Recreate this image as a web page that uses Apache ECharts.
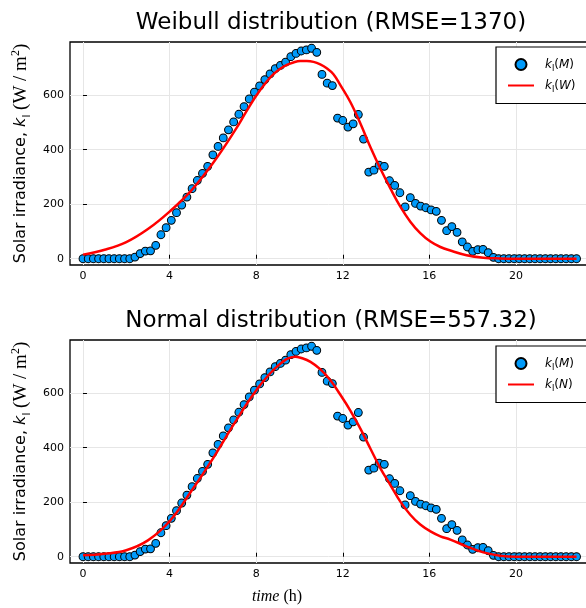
<!DOCTYPE html>
<html>
<head>
<meta charset="utf-8">
<script src="https://cdn.jsdelivr.net/npm/echarts@6/dist/echarts.min.js"></script>
<style>
html, body { margin: 0; padding: 0; background: #fff; }
#main { width: 586px; height: 608px; }
</style>
</head>
<body>
<div id="main"></div>
<script>
// time step of the measured data (h)
var dt = 0.24;
// measured irradiance k_I(M), one value per step
var measured = [0, 0, 0, 0, 0, 0, 0, 0, 0, 0,
  6, 19, 28, 29, 49, 88, 114, 141, 169, 197,
  226, 257, 287, 313, 339, 381, 412, 443, 473, 502,
  530, 558, 586, 611, 634, 657, 678, 697, 709, 721,
  741, 753, 762, 766, 772, 757, 676, 644, 635, 516,
  507, 483, 495, 529, 439, 318, 325, 343, 339, 286,
  269, 242, 190, 224, 203, 193, 187, 179, 174, 141,
  103, 118, 97, 62, 43, 27, 33, 34, 22, 5,
  0, 0, 0, 0, 0, 0, 0, 0, 0, 0, 0, 0, 0, 0, 0, 0];
// fitted curves
var weibullT = [0, 1, 2, 3, 4, 5, 6, 7, 7.57, 8, 8.49, 8.8, 9.11, 9.42, 9.72, 10.03, 10.34, 10.65, 10.96, 11.26, 11.57, 11.89, 12.35, 12.82, 13.28, 13.74, 14.2, 14.66, 15.12, 15.58, 16.05, 16.51, 16.97, 17.72, 18.49, 19.26, 20, 22.8];
var weibullV = [15, 33, 61, 109, 173, 250, 350, 468, 543, 598, 650, 677, 697, 711, 720, 725, 725, 722, 713, 699, 677, 637, 575, 495, 409, 330, 258, 191, 136, 94, 63, 43, 30, 13, 4, 1, 0, 0];
var normalT = [0, 1, 2, 3, 4, 5, 6, 7, 8, 9, 9.8, 10.05, 10.51, 10.97, 11.43, 11.89, 12.35, 12.82, 13.28, 13.74, 14.2, 14.66, 15.12, 15.58, 16.05, 16.51, 16.97, 17.72, 18.49, 19.26, 20, 22.8];
var normalV = [5, 11, 24, 60, 130, 240, 360, 490, 610, 700, 734, 730, 715, 687, 647, 594, 536, 469, 396, 324, 263, 202, 154, 118, 93, 75, 63, 38, 16, 4, 0, 0];
var xTicks = [0, 4, 8, 12, 16, 20];
var yTicks = [0, 200, 400, 600];
var titles = ['Weibull distribution (RMSE=1370)', 'Normal distribution (RMSE=557.32)'];

var myChart = echarts.init(document.getElementById('main'));

function pairs(t, v) {
  return v.map(function (y, i) { return [t[i], y]; });
}
var mData = measured.map(function (y, i) { return [i * dt, y]; });

var labelNames = {
  kM: '{i|k}{s|I}{n|(}{i|M}{n|)}',
  kM2: '{i|k}{s|I}{n|(}{i|M}{n|)}',
  kW: '{i|k}{s|I}{n|(}{i|W}{n|)}',
  kN: '{i|k}{s|I}{n|(}{i|N}{n|)}'
};
var legRich = {
  n: { fontFamily: 'DejaVu Sans', fontSize: 12, color: '#000', lineHeight: 16 },
  i: { fontFamily: 'DejaVu Sans', fontSize: 12, fontStyle: 'italic', color: '#000', lineHeight: 16 },
  s: { fontFamily: 'DejaVu Sans', fontSize: 8, color: '#000', verticalAlign: 'bottom', lineHeight: 16 }
};
var nameRich = {
  n: { fontFamily: 'DejaVu Sans', fontSize: 16, color: '#000', lineHeight: 22 },
  i: { fontFamily: 'DejaVu Sans', fontSize: 16, fontStyle: 'italic', color: '#000', lineHeight: 22 },
  s: { fontFamily: 'DejaVu Sans', fontSize: 10, color: '#000', verticalAlign: 'bottom', lineHeight: 22 },
  r: { fontFamily: 'Liberation Serif', fontSize: 19, color: '#000', lineHeight: 22 },
  p: { fontFamily: 'Liberation Serif', fontSize: 12, color: '#000', verticalAlign: 'top', lineHeight: 22 }
};

var grids = [
  { left: 70, top: 42, width: 523, height: 223 },
  { left: 70, top: 340, width: 523, height: 223 }
];

function xAx(idx) {
  return {
    type: 'value', gridIndex: idx, min: -0.6, max: 23.56,
    axisLine: { show: false },
    axisTick: { show: true, inside: true, length: 4, customValues: xTicks, lineStyle: { color: '#000' } },
    axisLabel: { customValues: xTicks, color: '#000', fontSize: 11, fontFamily: 'DejaVu Sans', margin: 6 },
    splitLine: { show: true, lineStyle: { color: '#e6e6e6', width: 1 } }
  };
}
function yAx(idx) {
  return {
    type: 'value', gridIndex: idx, min: -23, max: 795,
    name: '{n|Solar irradiance, }{i|k}{s|I}{r| (W / m}{p|2}{r|)}',
    nameLocation: 'middle', nameRotate: 90, nameGap: 34,
    nameTextStyle: { rich: nameRich },
    axisLine: { show: false },
    axisTick: { show: true, inside: true, length: 4, customValues: yTicks, lineStyle: { color: '#000' } },
    axisLabel: { customValues: yTicks, color: '#000', fontSize: 11, fontFamily: 'DejaVu Sans', margin: 6 },
    splitLine: { show: true, lineStyle: { color: '#e6e6e6', width: 1 } }
  };
}
function legendAt(top, names) {
  return {
    data: [
      { name: names[0] },
      { name: names[1], itemStyle: { color: 'rgba(0,0,0,0)', borderColor: 'rgba(0,0,0,0)', borderWidth: 0 } }
    ],
    orient: 'vertical', left: 496, top: top,
    backgroundColor: '#fff', borderColor: '#000', borderWidth: 1.2,
    padding: [11, 40, 10, 11], itemWidth: 26, itemHeight: 11, itemGap: 7,
    formatter: function (name) { return labelNames[name]; },
    textStyle: { rich: legRich, padding: [0, 0, 0, 6] }
  };
}

var option = {
  animation: false,
  backgroundColor: '#fff',
  grid: grids.map(function (g) {
    return Object.assign({ show: true, borderColor: '#000', borderWidth: 1.3, outerBoundsMode: 'none' }, g);
  }),
  xAxis: [xAx(0), xAx(1)],
  yAxis: [yAx(0), yAx(1)],
  legend: [legendAt(47, ['kM', 'kW']), legendAt(346, ['kM2', 'kN'])],
  graphic: [
    { type: 'text', x: 331, y: 23, style: { text: titles[0], font: '23px "DejaVu Sans"', fill: '#000', textAlign: 'center', textVerticalAlign: 'middle' } },
    { type: 'text', x: 331, y: 321, style: { text: titles[1], font: '23px "DejaVu Sans"', fill: '#000', textAlign: 'center', textVerticalAlign: 'middle' } },
    { type: 'text', x: 277, y: 597, style: { text: '{i|time}{r| (h)}', textAlign: 'center', textVerticalAlign: 'middle',
      rich: { i: { fontFamily: 'Liberation Serif', fontStyle: 'italic', fontSize: 16, fill: '#000' }, r: { fontFamily: 'Liberation Serif', fontSize: 16, fill: '#000' } } } }
  ],
  series: [
    { name: 'kM', type: 'scatter', xAxisIndex: 0, yAxisIndex: 0, data: mData, symbolSize: 7.8,
      itemStyle: { color: '#009AFA', borderColor: '#000', borderWidth: 1, opacity: 1 } },
    { name: 'kW', type: 'line', xAxisIndex: 0, yAxisIndex: 0, data: pairs(weibullT, weibullV), smooth: 0.4,
      showSymbol: false, symbol: 'none', lineStyle: { color: '#ff0000', width: 2.5 }, itemStyle: { color: '#ff0000' } },
    { name: 'kM2', type: 'scatter', xAxisIndex: 1, yAxisIndex: 1, data: mData, symbolSize: 7.8,
      itemStyle: { color: '#009AFA', borderColor: '#000', borderWidth: 1, opacity: 1 } },
    { name: 'kN', type: 'line', xAxisIndex: 1, yAxisIndex: 1, data: pairs(normalT, normalV), smooth: 0.4,
      showSymbol: false, symbol: 'none', lineStyle: { color: '#ff0000', width: 2.5 }, itemStyle: { color: '#ff0000' } }
  ]
};

myChart.setOption(option);
window.addEventListener('resize', function () {
  myChart.resize();
});
</script>
</body>
</html>
